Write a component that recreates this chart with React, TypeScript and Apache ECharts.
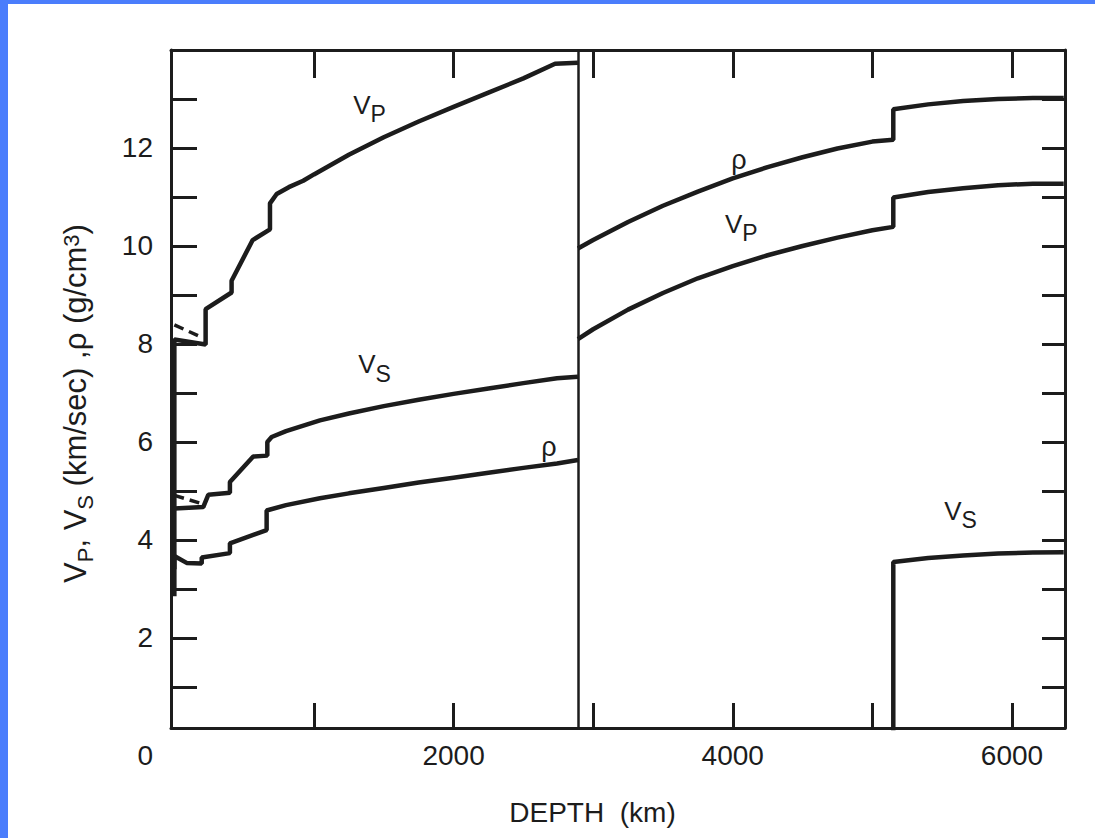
import React, { useEffect, useRef } from 'react';
import * as echarts from 'echarts';

// ---- data (depth km, value) ----
const depthTickValues = [1000, 2000, 3000, 4000, 5000, 6000];
const depthLabelValues = [0, 2000, 4000, 6000];
const valueTickValues = [1, 2, 3, 4, 5, 6, 7, 8, 9, 10, 11, 12, 13];
const valueLabelValues = [2, 4, 6, 8, 10, 12];
const coreMantleBoundary = 2891;

const mantleVp: [number, number][] = [
  [0, 4.6], [0, 8.09], [224, 7.99], [224, 8.71], [410, 9.05], [410, 9.29],
  [561, 10.12], [685, 10.34], [685, 10.87], [733, 11.06], [820, 11.2], [923, 11.33],
  [1000, 11.46], [1250, 11.86], [1500, 12.22], [1750, 12.54], [2000, 12.84],
  [2250, 13.13], [2500, 13.42], [2727, 13.72], [2891, 13.74],
];
const mantleVs: [number, number][] = [
  [0, 3.4], [0, 4.64], [207, 4.67], [243, 4.92], [398, 4.96], [398, 5.18],
  [565, 5.7], [666, 5.72], [666, 6.0], [697, 6.1], [800, 6.22], [1043, 6.44],
  [1250, 6.58], [1500, 6.73], [1750, 6.86], [2000, 6.98], [2250, 7.09],
  [2500, 7.2], [2741, 7.3], [2891, 7.33],
];
const mantleRho: [number, number][] = [
  [0, 2.85], [0, 3.67], [88, 3.53], [196, 3.52], [196, 3.64], [398, 3.73],
  [398, 3.93], [661, 4.2], [661, 4.6], [800, 4.71], [1043, 4.85], [1250, 4.95],
  [1500, 5.06], [1750, 5.17], [2000, 5.27], [2250, 5.37], [2500, 5.47],
  [2741, 5.56], [2891, 5.63],
];
const vpDashed: [number, number][] = [[0, 8.39], [183, 8.15]];
const vsDashed: [number, number][] = [[0, 4.91], [183, 4.75]];
const coreVp: [number, number][] = [
  [2891, 8.1], [3000, 8.3], [3250, 8.7], [3500, 9.04], [3750, 9.34], [4000, 9.59],
  [4250, 9.81], [4500, 10.0], [4750, 10.17], [5000, 10.32], [5150, 10.39],
  [5150, 10.99], [5400, 11.1], [5650, 11.18], [5900, 11.24], [6150, 11.27], [6371, 11.27],
];
const coreRho: [number, number][] = [
  [2891, 9.95], [3000, 10.12], [3250, 10.49], [3500, 10.82], [3750, 11.11], [4000, 11.38],
  [4250, 11.61], [4500, 11.81], [4750, 11.99], [5000, 12.13], [5150, 12.17],
  [5150, 12.79], [5400, 12.89], [5650, 12.96], [5900, 13.0], [6150, 13.02], [6371, 13.02],
];
const coreVs: [number, number][] = [
  [5150, 0], [5150, 3.55], [5400, 3.63], [5650, 3.68], [5900, 3.72], [6150, 3.74], [6371, 3.75],
];

const FONT = '"Liberation Sans", Arial, Helvetica, sans-serif';
const INK = '#1c1c1c';

function subLabel(main: string, sub: string, x: number, y: number) {
  return {
    type: 'text',
    x,
    y,
    silent: true,
    style: {
      text: `{v|${main}}{s|${sub}}`,
      fontSize: 26,
      fontFamily: FONT,
      fill: INK,
      align: 'center',
      verticalAlign: 'middle',
      rich: {
        v: { fontSize: 26, fontFamily: FONT, fill: INK, lineHeight: 30, verticalAlign: 'top' },
        s: { fontSize: 23, fontFamily: FONT, fill: INK, lineHeight: 24, verticalAlign: 'top', padding: [11, 0, 0, 0] },
      },
    },
  };
}

function plainLabel(text: string, x: number, y: number, size: number) {
  return {
    type: 'text',
    x,
    y,
    silent: true,
    style: {
      text,
      fontSize: size,
      fontFamily: FONT,
      fill: INK,
      align: 'center',
      verticalAlign: 'middle',
    },
  };
}

export default function App() {
  const ref = useRef<HTMLDivElement>(null);

  useEffect(() => {
    document.body.style.margin = '0';
    if (!ref.current) return;
    const chart = echarts.init(ref.current, undefined, { renderer: 'svg' });

    const lineStyle = { color: INK, width: 3 };
    const baseSeries = (data: [number, number][], dashed = false) => ({
      type: 'line',
      data,
      xAxisIndex: 0,
      yAxisIndex: 0,
      symbol: 'none',
      smooth: false,
      silent: true,
      lineStyle: { color: INK, width: dashed ? 3.5 : 4.5, type: dashed ? [10, 6] : 'solid' },
    });

    chart.setOption({
      animation: false,
      backgroundColor: '#ffffff',
      grid: { left: 163, top: 46, right: 30, bottom: 110, containLabel: false },
      xAxis: [
        {
          type: 'value',
          position: 'bottom',
          min: -24,
          max: 6380,
          splitLine: { show: false },
          axisLine: { show: true, onZero: false, lineStyle },
          axisTick: { show: true, inside: true, length: 25, customValues: depthTickValues, lineStyle },
          axisLabel: {
            customValues: depthLabelValues,
            margin: 13,
            fontSize: 28,
            fontFamily: FONT,
            color: INK,
            formatter: (v: number) => (v === 0 ? '{z|0}' : String(v)),
            rich: { z: { padding: [0, 58, 0, 0], fontSize: 28, fontFamily: FONT, color: INK } },
          },
          name: 'DEPTH  (km)',
          nameLocation: 'middle',
          nameGap: 70,
          nameTextStyle: { fontSize: 28, fontFamily: FONT, color: INK, padding: [0, 51, 0, 0] },
        },
        {
          type: 'value',
          position: 'top',
          min: -24,
          max: 6380,
          splitLine: { show: false },
          axisLine: { show: true, onZero: false, lineStyle },
          axisTick: { show: true, inside: true, length: 28, customValues: depthTickValues, lineStyle },
          axisLabel: { show: false },
        },
      ],
      yAxis: [
        {
          type: 'value',
          position: 'left',
          min: 0.16,
          max: 14,
          splitLine: { show: false },
          axisLine: { show: true, onZero: false, lineStyle },
          axisTick: { show: true, inside: true, length: 26, customValues: valueTickValues, lineStyle },
          axisLabel: {
            customValues: valueLabelValues,
            margin: 18,
            fontSize: 28,
            fontFamily: FONT,
            color: INK,
          },
          name: '{v|V}{s|P}{v|, V}{s|S}{v| (km/sec) ,ρ (g/cm}{p|3}{v|)}',
          nameLocation: 'middle',
          nameRotate: 90,
          nameGap: 77,
          nameTextStyle: {
            fontSize: 31,
            fontFamily: FONT,
            color: INK,
            padding: [0, 29, 0, 0],
            rich: {
              v: { fontSize: 31, fontFamily: FONT, color: INK, lineHeight: 34, verticalAlign: 'top' },
              s: { fontSize: 22, fontFamily: FONT, color: INK, lineHeight: 22, verticalAlign: 'top', padding: [14, 0, 0, 0] },
              p: { fontSize: 22, fontFamily: FONT, color: INK, lineHeight: 22, verticalAlign: 'top' },
            },
          },
        },
        {
          type: 'value',
          position: 'right',
          min: 0.16,
          max: 14,
          splitLine: { show: false },
          axisLine: { show: true, onZero: false, lineStyle },
          axisTick: { show: true, inside: true, length: 23, customValues: valueTickValues, lineStyle },
          axisLabel: { show: false },
        },
      ],
      series: [
        baseSeries(mantleVp),
        baseSeries(mantleVs),
        baseSeries(mantleRho),
        baseSeries(vpDashed, true),
        baseSeries(vsDashed, true),
        {
          ...baseSeries(coreVp),
          markLine: {
            silent: true,
            symbol: 'none',
            label: { show: false },
            lineStyle: { color: INK, width: 2.5, type: 'solid' },
            data: [{ xAxis: coreMantleBoundary }],
          },
        },
        baseSeries(coreRho),
        baseSeries(coreVs),
      ],
      graphic: [
        subLabel('V', 'P', 361.6, 102.5),
        subLabel('V', 'S', 366.6, 362),
        plainLabel('ρ', 541, 443, 27),
        plainLabel('ρ', 731, 155.5, 27),
        subLabel('V', 'P', 733.3, 221.5),
        subLabel('V', 'S', 952.6, 508.5),
      ],
    });

    return () => chart.dispose();
  }, []);

  return (
    <div
      style={{
        width: 1095,
        height: 838,
        position: 'relative',
        background: '#4a7dfc',
        overflow: 'hidden',
      }}
    >
      <div
        ref={ref}
        style={{ position: 'absolute', left: 8, top: 4, width: 1087, height: 834, background: '#ffffff' }}
      />
    </div>
  );
}
